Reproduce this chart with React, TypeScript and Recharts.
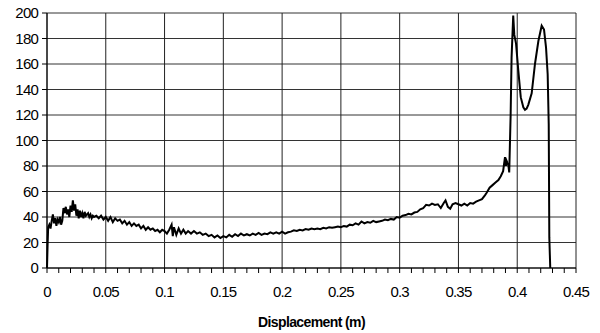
import React from 'react';
import { LineChart, Line, XAxis, YAxis, CartesianGrid, ReferenceLine } from 'recharts';

// displacement (m) and force readings, taken off the plot
const disp = [
  0, 0.0005, 0.001, 0.002, 0.003, 0.004, 0.005, 0.006, 0.007, 0.008, 0.009,
  0.01, 0.011, 0.012, 0.013, 0.014, 0.015, 0.016, 0.017, 0.018, 0.019,
  0.02, 0.021, 0.022, 0.023, 0.024, 0.025, 0.026, 0.027, 0.028, 0.029,
  0.03, 0.031, 0.032, 0.033, 0.034, 0.035, 0.036, 0.037, 0.038, 0.039,
  0.04, 0.042, 0.044, 0.046, 0.048, 0.05, 0.052, 0.054, 0.056, 0.058,
  0.06, 0.062, 0.064, 0.066, 0.068, 0.07, 0.072, 0.074, 0.076, 0.078,
  0.08, 0.082, 0.084, 0.086, 0.088, 0.09, 0.092, 0.094, 0.096, 0.098,
  0.1, 0.102, 0.104, 0.106, 0.107, 0.108, 0.11, 0.112, 0.114, 0.116, 0.118,
  0.12, 0.1225, 0.125, 0.1275, 0.13, 0.1325, 0.135, 0.1375, 0.14, 0.1425,
  0.145, 0.1475, 0.15, 0.1525, 0.155, 0.1575, 0.16, 0.1625, 0.165, 0.1675,
  0.17, 0.1725, 0.175, 0.1775, 0.18, 0.1825, 0.185, 0.1875, 0.19, 0.1925,
  0.195, 0.1975, 0.2, 0.2025, 0.205, 0.2075, 0.21, 0.2125, 0.215, 0.2175,
  0.22, 0.2225, 0.225, 0.2275, 0.23, 0.2325, 0.235, 0.2375, 0.24, 0.2425,
  0.245, 0.2475, 0.25, 0.2525, 0.255, 0.2575, 0.26, 0.2625, 0.265, 0.2675,
  0.27, 0.2725, 0.275, 0.2775, 0.28, 0.2825, 0.285, 0.2875, 0.29, 0.2925,
  0.295, 0.2975, 0.3, 0.3025, 0.305, 0.3075, 0.31, 0.3125, 0.315, 0.3175,
  0.32, 0.3225, 0.325, 0.3275, 0.33, 0.3325, 0.335, 0.3375, 0.339, 0.341,
  0.343, 0.345, 0.3475, 0.35, 0.3525, 0.355, 0.3575, 0.36, 0.3625, 0.365,
  0.3675, 0.37, 0.3725, 0.374, 0.3765, 0.379, 0.3815, 0.384, 0.386, 0.388,
  0.3896, 0.3905, 0.391, 0.3924, 0.3932, 0.3944, 0.3952, 0.3966, 0.3975, 0.399,
  0.4009, 0.403, 0.4052, 0.4066, 0.408, 0.4094, 0.4123, 0.4151, 0.418, 0.4208,
  0.4228, 0.4245, 0.4259, 0.4268, 0.4273, 0.4281,
];

const force = [
  0, 18, 32, 34, 31, 37, 42, 35, 39, 33, 38,
  36, 40, 34, 37, 47, 43, 48, 42, 46, 40,
  49, 44, 53, 45, 50, 41, 46, 39, 45, 40,
  43, 39, 44, 41, 42, 43, 40, 42, 39, 41,
  40, 41, 39, 41, 38, 40, 37, 40, 36, 39,
  37, 38, 35, 37, 34, 36, 33, 35, 33, 34,
  31, 33, 30, 32, 30, 31, 29, 30, 28, 30,
  29, 27, 30, 34, 25, 32, 26, 31, 27, 30, 27,
  29, 27, 29, 27, 28, 26, 27, 25, 26, 24,
  25.5, 23.5, 25, 24, 26, 24.5, 26.5, 25, 27, 25.5,
  26.5, 25.5, 27, 26, 27.5, 26, 27, 26.5, 28, 27,
  28, 27, 28.5, 27, 28, 28.5, 29.5, 29, 30, 29.5,
  30.5, 30, 31, 30.5, 31, 30.5, 31.5, 31, 32, 31.5,
  32, 32.5, 32, 33, 32.5, 34, 33.5, 35, 34, 36.5,
  35, 36, 35.5, 37, 36, 36.5, 37, 38, 37.5, 38.5,
  38, 40, 39.5, 41, 41.5, 42.5, 42, 43.5, 44, 46,
  47, 49.5, 49, 50.5, 49.5, 50, 47, 51, 53, 48,
  46.5, 50, 51, 50, 49, 50.5, 49, 51, 50.5, 52,
  53, 54, 57, 59, 63, 65, 67, 69, 72, 76,
  87, 80, 84, 81, 75, 120, 165, 198, 183, 176,
  155, 134, 126, 124, 125, 128, 137, 160, 178, 190,
  187, 173, 152, 113, 24, 0,
];

const xTicks = [
  0, 0.01, 0.02, 0.03, 0.04, 0.05, 0.06, 0.07, 0.08, 0.09, 0.1, 0.11, 0.12, 0.13, 0.14,
  0.15, 0.16, 0.17, 0.18, 0.19, 0.2, 0.21, 0.22, 0.23, 0.24, 0.25, 0.26, 0.27, 0.28, 0.29,
  0.3, 0.31, 0.32, 0.33, 0.34, 0.35, 0.36, 0.37, 0.38, 0.39, 0.4, 0.41, 0.42, 0.43, 0.44, 0.45,
];
const xMajor = [0, 0.05, 0.1, 0.15, 0.2, 0.25, 0.3, 0.35, 0.4, 0.45];
const yTicks = [0, 20, 40, 60, 80, 100, 120, 140, 160, 180, 200];

const data = disp.map((x, i) => ({ x, f: force[i] }));

const font = '"Liberation Sans Narrow", "Liberation Sans", Arial, sans-serif';

const fmtX = (v: number) =>
  xMajor.some((m) => Math.abs(m - v) < 1e-9) ? String(v) : '';

export default function App() {
  return (
    <div style={{ position: 'absolute', left: 0, top: 0, background: '#fff' }}>
      <LineChart
        width={600}
        height={333}
        data={data}
        margin={{ top: 13, right: 24, left: 0, bottom: 0 }}
        style={{ fontFamily: font }}
      >
        <CartesianGrid vertical={false} stroke="#333" strokeWidth={1} />
        {xMajor.map((v) => (
          <ReferenceLine key={v} x={v} stroke="#222" strokeWidth={1} ifOverflow="visible" />
        ))}
        <XAxis
          dataKey="x"
          type="number"
          domain={[0, 0.45]}
          ticks={xTicks}
          interval={0}
          tickFormatter={fmtX}
          tickSize={5}
          tickMargin={13}
          height={65}
          stroke="#000"
          tick={{ fill: '#000', fontSize: 15, letterSpacing: -0.8 }}
          label={{
            value: 'Displacement (m)',
            position: 'insideBottom',
            offset: 6,
            fill: '#000',
            fontSize: 14,
            fontWeight: 'bold',
            letterSpacing: -0.6,
          }}
        />
        <YAxis
          type="number"
          domain={[0, 200]}
          ticks={yTicks}
          interval={0}
          width={47}
          tickSize={5}
          tickMargin={4}
          stroke="#000"
          tick={{ fill: '#000', fontSize: 15, letterSpacing: -0.8 }}
        />
        <Line
          type="linear"
          dataKey="f"
          stroke="#000"
          strokeWidth={2}
          dot={false}
          isAnimationActive={false}
        />
      </LineChart>
    </div>
  );
}
